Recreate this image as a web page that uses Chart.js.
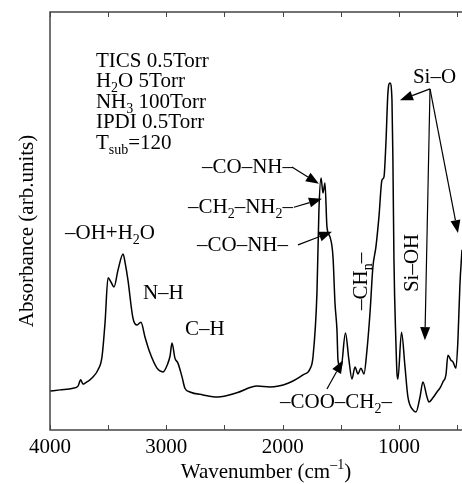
<!DOCTYPE html>
<html>
<head>
<meta charset="utf-8">
<script src="https://cdn.jsdelivr.net/npm/chart.js@4"></script>
<style>
  html, body { margin: 0; padding: 0; background: #fff; }
  #ir_chart { display: block; }
</style>
</head>
<body>
<canvas id="ir_chart" width="462" height="484"></canvas>
<script>
const wavenumber = [
    4000, 3914, 3802, 3759, 3736, 3716, 3699, 3630, 3587, 3553,
    3527, 3501, 3476, 3450, 3415, 3372, 3351, 3330, 3287, 3252,
    3218, 3183, 3140, 3080, 3029, 2986, 2968, 2951, 2926, 2900,
    2865, 2840, 2797, 2685, 2556, 2393, 2221, 2109, 1954, 1825,
    1765, 1739, 1705, 1688, 1670, 1653, 1636, 1619, 1593, 1567,
    1550, 1533, 1524, 1499, 1460, 1430, 1404, 1378, 1352, 1327,
    1301, 1275, 1249, 1224, 1198, 1172, 1146, 1129, 1112, 1095,
    1077, 1060, 1052, 1043, 1026, 1017, 1009, 978, 948, 923,
    880, 854, 819, 794, 759, 742, 708, 673, 648, 622,
    596, 579, 553, 536, 510, 493, 476, 458
]
const absorbance = [
    0.093, 0.096, 0.100, 0.105, 0.120, 0.110, 0.112, 0.127, 0.144, 0.175,
    0.256, 0.364, 0.354, 0.342, 0.383, 0.421, 0.395, 0.359, 0.268, 0.251,
    0.258, 0.222, 0.184, 0.148, 0.139, 0.160, 0.177, 0.208, 0.172, 0.160,
    0.127, 0.100, 0.091, 0.084, 0.079, 0.089, 0.105, 0.103, 0.112, 0.132,
    0.146, 0.175, 0.328, 0.526, 0.603, 0.567, 0.591, 0.486, 0.462, 0.414,
    0.304, 0.239, 0.167, 0.148, 0.232, 0.167, 0.122, 0.151, 0.134, 0.148,
    0.134, 0.191, 0.280, 0.390, 0.438, 0.510, 0.598, 0.605, 0.687, 0.806,
    0.830, 0.789, 0.646, 0.407, 0.208, 0.136, 0.122, 0.234, 0.151, 0.079,
    0.048, 0.043, 0.079, 0.115, 0.079, 0.067, 0.077, 0.091, 0.100, 0.115,
    0.132, 0.179, 0.167, 0.163, 0.148, 0.215, 0.347, 0.431
]
const tickValues = [4000, 3500, 3000, 2500, 2000, 1500, 1000, 500]
const tickLabels = ['4000', '3000', '2000', '1000']

// text parts: [text, 'sub' | 'sup' | ''], placed in data coordinates
const conditions = [
    [['TICS 0.5Torr']],
    [['H'], ['2', 'sub'], ['O 5Torr']],
    [['NH'], ['3', 'sub'], [' 100Torr']],
    [['IPDI 0.5Torr']],
    [['T'], ['sub', 'sub'], ['=120']]
]
const conditionsY = [0.868, 0.821, 0.770, 0.722, 0.672]

const labels = [
    { at: [3871, 0.457], parts: [['–OH+H'], ['2', 'sub'], ['O']] },
    { at: [3201, 0.313], parts: [['N–H']] },
    { at: [2840, 0.227], parts: [['C–H']] },
    { at: [2693, 0.615], parts: [['–CO–NH–']] },
    { at: [2814, 0.519], parts: [['–CH'], ['2', 'sub'], ['–NH'], ['2', 'sub'], ['–']] },
    { at: [2736, 0.428], parts: [['–CO–NH–']] },
    { at: [880, 0.830], parts: [['Si–O']] },
    { at: [2023, 0.053], parts: [['–COO–CH'], ['2', 'sub'], ['–']] },
    { at: [1275, 0.287], parts: [['–CH'], ['n', 'sub'], ['–']], rotate: true },
    { at: [837, 0.330], parts: [['Si–OH']], rotate: true }
]

const arrows = [
    { from: [1920, 0.629], to: [1688, 0.589] },
    { from: [1903, 0.533], to: [1662, 0.553] },
    { from: [1868, 0.443], to: [1576, 0.474] },
    { from: [733, 0.816], to: [991, 0.789] },
    { from: [733, 0.816], to: [777, 0.215] },
    { from: [733, 0.816], to: [493, 0.471] },
    { from: [1619, 0.098], to: [1481, 0.167] }
]

const FONT = '"Liberation Serif", "Times New Roman", serif'

function fontFor(mode) {
    return (mode ? 14 : 21) + 'px ' + FONT
}

function drawParts(ctx, parts, x, y, align) {
    const widths = parts.map(p => {
        ctx.font = fontFor(p[1])
        return ctx.measureText(p[0]).width
    })
    const total = widths.reduce((a, b) => a + b, 0)
    let cx = align === 'center' ? x - total / 2 : x
    parts.forEach((p, i) => {
        ctx.font = fontFor(p[1])
        const dy = p[1] === 'sub' ? 5 : p[1] === 'sup' ? -9 : 0
        ctx.fillText(p[0], cx, y + dy)
        cx += widths[i]
    })
}

function drawArrow(ctx, x1, y1, x2, y2) {
    const a = Math.atan2(y2 - y1, x2 - x1)
    const len = 13, half = 5
    const bx = x2 - len * Math.cos(a)
    const by = y2 - len * Math.sin(a)
    ctx.beginPath()
    ctx.moveTo(x1, y1)
    ctx.lineTo(bx, by)
    ctx.stroke()
    ctx.beginPath()
    ctx.moveTo(x2, y2)
    ctx.lineTo(bx + half * Math.sin(a), by - half * Math.cos(a))
    ctx.lineTo(bx - half * Math.sin(a), by + half * Math.cos(a))
    ctx.closePath()
    ctx.fill()
}

const framePlugin = {
    id: 'frame',
    afterDraw(chart) {
        const ctx = chart.ctx
        const x = chart.scales.x
        const y = chart.scales.y
        const area = chart.chartArea
        ctx.save()

        // frame: left, top, bottom
        ctx.strokeStyle = '#444'
        ctx.lineWidth = 1.5
        ctx.beginPath()
        ctx.moveTo(area.right + 1, area.top)
        ctx.lineTo(area.left, area.top)
        ctx.lineTo(area.left, area.bottom)
        ctx.lineTo(area.right + 1, area.bottom)
        ctx.stroke()

        // inward ticks top and bottom
        ctx.lineWidth = 1
        tickValues.forEach(v => {
            const px = Math.round(x.getPixelForValue(v)) + 0.5
            ctx.beginPath()
            ctx.moveTo(px, area.bottom)
            ctx.lineTo(px, area.bottom - 5)
            ctx.moveTo(px, area.top)
            ctx.lineTo(px, area.top + 5)
            ctx.stroke()
        })

        ctx.fillStyle = '#000'
        ctx.textBaseline = 'alphabetic'
        ctx.textAlign = 'left'

        // tick labels
        tickLabels.forEach(t => {
            drawParts(ctx, [[t]], x.getPixelForValue(Number(t)), area.bottom + 23, 'center')
        })

        // axis titles
        drawParts(ctx, [['Wavenumber (cm'], ['–1', 'sup'], [')']], 266, 478, 'center')
        ctx.save()
        ctx.translate(33, (area.top + area.bottom) / 2 + 10)
        ctx.rotate(-Math.PI / 2)
        drawParts(ctx, [['Absorbance (arb.units)']], 0, 0, 'center')
        ctx.restore()

        // conditions block
        conditions.forEach((parts, i) => {
            drawParts(ctx, parts, x.getPixelForValue(3605), y.getPixelForValue(conditionsY[i]), 'left')
        })

        // peak labels
        labels.forEach(l => {
            const px = x.getPixelForValue(l.at[0])
            const py = y.getPixelForValue(l.at[1])
            if (l.rotate) {
                ctx.save()
                ctx.translate(px, py)
                ctx.rotate(-Math.PI / 2)
                drawParts(ctx, l.parts, 0, 0, 'left')
                ctx.restore()
            } else {
                drawParts(ctx, l.parts, px, py, 'left')
            }
        })

        // arrows
        ctx.strokeStyle = '#000'
        ctx.lineWidth = 1.2
        arrows.forEach(a => {
            drawArrow(ctx,
                x.getPixelForValue(a.from[0]), y.getPixelForValue(a.from[1]),
                x.getPixelForValue(a.to[0]), y.getPixelForValue(a.to[1]))
        })
        ctx.restore()
    }
}

new Chart(document.querySelector('#ir_chart'), {
    type: 'line',
    data: {
        datasets: [{
            data: wavenumber.map((w, i) => ({ x: w, y: absorbance[i] })),
            borderColor: '#000',
            borderWidth: 1.5,
            pointRadius: 0,
            cubicInterpolationMode: 'monotone',
            fill: false
        }]
    },
    options: {
        responsive: false,
        animation: false,
        layout: {
            padding: { left: 50, top: 12, right: 0, bottom: 54 }
        },
        plugins: {
            legend: { display: false },
            tooltip: { enabled: false }
        },
        scales: {
            x: { type: 'linear', reverse: true, min: 458, max: 4000, display: false },
            y: { min: 0, max: 1, display: false }
        }
    },
    plugins: [framePlugin]
})
</script>
</body>
</html>
